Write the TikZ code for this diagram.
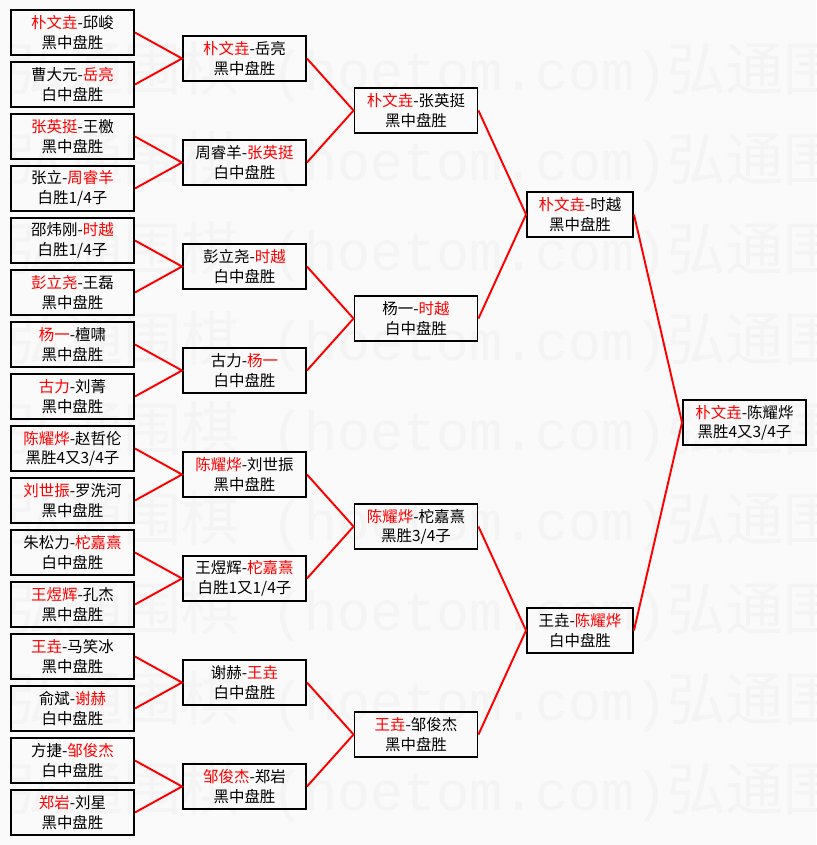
\documentclass[tikz,border=0pt]{standalone}
\usepackage{fontspec}
\setmainfont{Noto Sans CJK SC}
\newfontfamily\wmmono{Liberation Mono}
\definecolor{bgcol}{gray}{0.98}
\definecolor{wmcol}{gray}{0.955}
\newcommand{\winner}[1]{\textcolor{red}{#1}}
\newcommand{\wmpart}{\makebox[150.2pt][l]{弘通围棋}\makebox[225.3pt][l]{\wmmono\fontsize{31.3}{31.3}\selectfont(hoetom.com)}}

\begin{document}
\begin{tikzpicture}[x=0.02cm, y=-0.02cm,
  box/.style={draw, line width=1.1pt, rectangle, minimum width=2.46cm, minimum height=0.9cm,
    inner sep=0pt, align=center, font=\fontsize{8.8}{11}\selectfont},
  narrow/.style={box, minimum width=2.12cm},
  link/.style={red, line width=1.1pt},
  wmark/.style={wmcol, anchor=base west, inner sep=0pt, font=\fontsize{33}{33}\selectfont}]
\useasboundingbox (0,0) rectangle (816,845);
\fill[bgcol] (0,0) rectangle (816,845);

% Watermark
\begin{scope}
\clip (0,0) rectangle (816,845);
\foreach \y in {90,180,...,810}
  \node[wmark] (wm\y) at (7,\y) {\wmpart\wmpart};
\end{scope}

% First round
\node[box] (A1) at (72.5,32.5) {\winner{朴文垚}-邱峻\\黑中盘胜};
\node[box] (A2) at (72.5,84.5) {曹大元-\winner{岳亮}\\白中盘胜};
\node[box] (A3) at (72.5,136.5) {\winner{张英挺}-王檄\\黑中盘胜};
\node[box] (A4) at (72.5,188.5) {张立-\winner{周睿羊}\\白胜1/4子};
\node[box] (A5) at (72.5,240.5) {邵炜刚-\winner{时越}\\白胜1/4子};
\node[box] (A6) at (72.5,292.5) {\winner{彭立尧}-王磊\\黑中盘胜};
\node[box] (A7) at (72.5,344.5) {\winner{杨一}-檀啸\\黑中盘胜};
\node[box] (A8) at (72.5,396.5) {\winner{古力}-刘菁\\黑中盘胜};
\node[box] (A9) at (72.5,448.5) {\winner{陈耀烨}-赵哲伦\\黑胜4又3/4子};
\node[box] (A10) at (72.5,500.5) {\winner{刘世振}-罗洗河\\黑中盘胜};
\node[box] (A11) at (72.5,552.5) {朱松力-\winner{柁嘉熹}\\白中盘胜};
\node[box] (A12) at (72.5,604.5) {\winner{王煜辉}-孔杰\\黑中盘胜};
\node[box] (A13) at (72.5,656.5) {\winner{王垚}-马笑冰\\黑中盘胜};
\node[box] (A14) at (72.5,708.5) {俞斌-\winner{谢赫}\\白中盘胜};
\node[box] (A15) at (72.5,760.5) {方捷-\winner{邹俊杰}\\白中盘胜};
\node[box] (A16) at (72.5,812.5) {\winner{郑岩}-刘星\\黑中盘胜};

% Second round
\node[box] (B1) at (244.5,58.5) {\winner{朴文垚}-岳亮\\黑中盘胜};
\node[box] (B2) at (244.5,162.5) {周睿羊-\winner{张英挺}\\白中盘胜};
\node[box] (B3) at (244.5,266.5) {彭立尧-\winner{时越}\\白中盘胜};
\node[box] (B4) at (244.5,370.5) {古力-\winner{杨一}\\白中盘胜};
\node[box] (B5) at (244.5,474.5) {\winner{陈耀烨}-刘世振\\黑中盘胜};
\node[box] (B6) at (244.5,578.5) {王煜辉-\winner{柁嘉熹}\\白胜1又1/4子};
\node[box] (B7) at (244.5,682.5) {谢赫-\winner{王垚}\\白中盘胜};
\node[box] (B8) at (244.5,786.5) {\winner{邹俊杰}-郑岩\\黑中盘胜};

% Quarter and semi finals
\node[box] (C1) at (416,110.5) {\winner{朴文垚}-张英挺\\黑中盘胜};
\node[box] (C2) at (416,318.5) {杨一-\winner{时越}\\白中盘胜};
\node[box] (C3) at (416,526.5) {\winner{陈耀烨}-柁嘉熹\\黑胜3/4子};
\node[box] (C4) at (416,734.5) {\winner{王垚}-邹俊杰\\黑中盘胜};
\node[narrow] (D1) at (580,214.5) {\winner{朴文垚}-时越\\黑中盘胜};
\node[narrow] (D2) at (580,630.5) {王垚-\winner{陈耀烨}\\白中盘胜};

% Final
\node[box] (F) at (744.5,422.5) {\winner{朴文垚}-陈耀烨\\黑胜4又3/4子};

% Links
\draw[link] (A1.east) -- (B1.west) -- (A2.east);
\draw[link] (A3.east) -- (B2.west) -- (A4.east);
\draw[link] (A5.east) -- (B3.west) -- (A6.east);
\draw[link] (A7.east) -- (B4.west) -- (A8.east);
\draw[link] (A9.east) -- (B5.west) -- (A10.east);
\draw[link] (A11.east) -- (B6.west) -- (A12.east);
\draw[link] (A13.east) -- (B7.west) -- (A14.east);
\draw[link] (A15.east) -- (B8.west) -- (A16.east);
\draw[link] (B1.east) -- (C1.west) -- (B2.east);
\draw[link] (B3.east) -- (C2.west) -- (B4.east);
\draw[link] (B5.east) -- (C3.west) -- (B6.east);
\draw[link] (B7.east) -- (C4.west) -- (B8.east);
\draw[link] (C1.east) -- (D1.west) -- (C2.east);
\draw[link] (C3.east) -- (D2.west) -- (C4.east);
\draw[link] (D1.east) -- (F.west) -- (D2.east);

\end{tikzpicture}
\end{document}
